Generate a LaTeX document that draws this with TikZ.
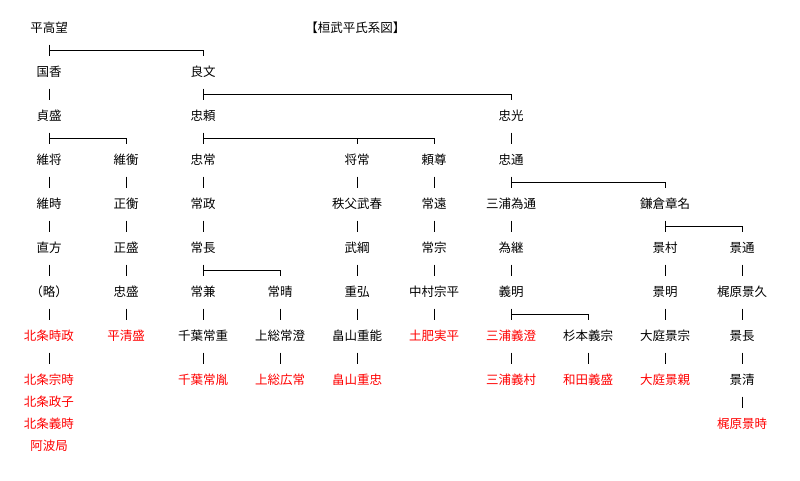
\documentclass[tikz,border=0pt]{standalone}
\usepackage{fontspec}
\newfontfamily\jp{Noto Sans CJK JP}
\begin{document}
\begin{tikzpicture}[x=77pt,y=-44pt,line width=1pt,
  person/.style={inner sep=0pt,minimum height=32pt,text height=10.5pt,text depth=1pt,font=\jp\fontsize{12.5}{14}\selectfont},
  famous/.style={person,text=red}]
\useasboundingbox (-49pt,28pt) rectangle (751pt,-452pt);
% row 0
\node[person] (takamochi) at (0,0) {平高望};
\node[person] (title) at (3.98,0) {【桓武平氏系図】};
% row 1
\node[person] (kunika) at (0,1) {国香};
\node[person] (yoshifumi) at (2,1) {良文};
% row 2
\node[person] (sadamori) at (0,2) {貞盛};
\node[person] (tadayori) at (2,2) {忠頼};
\node[person] (tadamitsu) at (6,2) {忠光};
% row 3
\node[person] (koremasa) at (0,3) {維将};
\node[person] (korehira) at (1,3) {維衡};
\node[person] (tadatsune) at (2,3) {忠常};
\node[person] (masatsune) at (4,3) {将常};
\node[person] (yoritaka) at (5,3) {頼尊};
\node[person] (tadamichi) at (6,3) {忠通};
% row 4
\node[person] (koretoki) at (0,4) {維時};
\node[person] (masahira) at (1,4) {正衡};
\node[person] (tsunemasa) at (2,4) {常政};
\node[person] (takeharu) at (4,4) {秩父武春};
\node[person] (tsunetoo) at (5,4) {常遠};
\node[person] (tamemichi) at (6,4) {三浦為通};
\node[person] (akina) at (8,4) {鎌倉章名};
% row 5
\node[person] (naokata) at (0,5) {直方};
\node[person] (masamori) at (1,5) {正盛};
\node[person] (tsunenaga) at (2,5) {常長};
\node[person] (taketsuna) at (4,5) {武綱};
\node[person] (tsunemune) at (5,5) {常宗};
\node[person] (tametsugu) at (6,5) {為継};
\node[person] (kagemura) at (8,5) {景村};
\node[person] (kagemichi) at (9,5) {景通};
% row 6
\node[person] (ryaku) at (0,6) {（略）};
\node[person] (tadamori) at (1,6) {忠盛};
\node[person] (tsunekane) at (2,6) {常兼};
\node[person] (tsuneharu) at (3,6) {常晴};
\node[person] (shigehiro) at (4,6) {重弘};
\node[person] (munehira) at (5,6) {中村宗平};
\node[person] (yoshiaki) at (6,6) {義明};
\node[person] (kageaki) at (8,6) {景明};
\node[person] (kagehisa) at (9,6) {梶原景久};
% row 7
\node[famous] (tokimasa) at (0,7) {北条時政};
\node[famous] (kiyomori) at (1,7) {平清盛};
\node[person] (tsuneshige) at (2,7) {千葉常重};
\node[person] (tsunezumi) at (3,7) {上総常澄};
\node[person] (shigeyoshi) at (4,7) {畠山重能};
\node[famous] (sanehira) at (5,7) {土肥実平};
\node[famous] (yoshizumi) at (6,7) {三浦義澄};
\node[person] (yoshimune) at (7,7) {杉本義宗};
\node[person] (kagemune) at (8,7) {大庭景宗};
\node[person] (kagenaga) at (9,7) {景長};
% row 8
\node[famous] (munetoki) at (0,8) {北条宗時};
\node[famous] (masako) at (0,8.5) {北条政子};
\node[famous] (yoshitoki) at (0,9) {北条義時};
\node[famous] (awa) at (0,9.5) {阿波局};
\node[famous] (tanetsune) at (2,8) {千葉常胤};
\node[famous] (hirotsune) at (3,8) {上総広常};
\node[famous] (shigetada) at (4,8) {畠山重忠};
\node[famous] (yoshimura) at (6,8) {三浦義村};
\node[famous] (yoshimori) at (7,8) {和田義盛};
\node[famous] (kagechika) at (8,8) {大庭景親};
\node[person] (kagekiyo) at (9,8) {景清};
% row 9
\node[famous] (kagetoki) at (9,9) {梶原景時};
% one child
\foreach \a/\b in {kunika/sadamori,tadamitsu/tadamichi,
  koremasa/koretoki,koretoki/naokata,naokata/ryaku,ryaku/tokimasa,tokimasa/munetoki,
  korehira/masahira,masahira/masamori,masamori/tadamori,tadamori/kiyomori,
  tadatsune/tsunemasa,tsunemasa/tsunenaga,tsunekane/tsuneshige,tsuneshige/tanetsune,
  tsuneharu/tsunezumi,tsunezumi/hirotsune,
  masatsune/takeharu,takeharu/taketsuna,taketsuna/shigehiro,shigehiro/shigeyoshi,shigeyoshi/shigetada,
  yoritaka/tsunetoo,tsunetoo/tsunemune,tsunemune/munehira,munehira/sanehira,
  tamemichi/tametsugu,tametsugu/yoshiaki,yoshizumi/yoshimura,yoshimune/yoshimori,
  kagemura/kageaki,kageaki/kagemune,kagemune/kagechika,
  kagemichi/kagehisa,kagehisa/kagenaga,kagenaga/kagekiyo,kagekiyo/kagetoki}
\draw (\a.south) -- (\b.north);
% several children
\foreach \p/\k in {takamochi/yoshifumi,yoshifumi/tadamitsu,sadamori/korehira,
  tadayori/yoritaka,tadamichi/akina,akina/kagemichi,tsunenaga/tsuneharu,yoshiaki/yoshimune}
\draw (\p.south) -- (\p.south |- \k.north) (\p.south) ++(0,-6pt) -| (\k.north);
\draw (masatsune.north) -- ++(0,6pt);
\end{tikzpicture}
\end{document}
